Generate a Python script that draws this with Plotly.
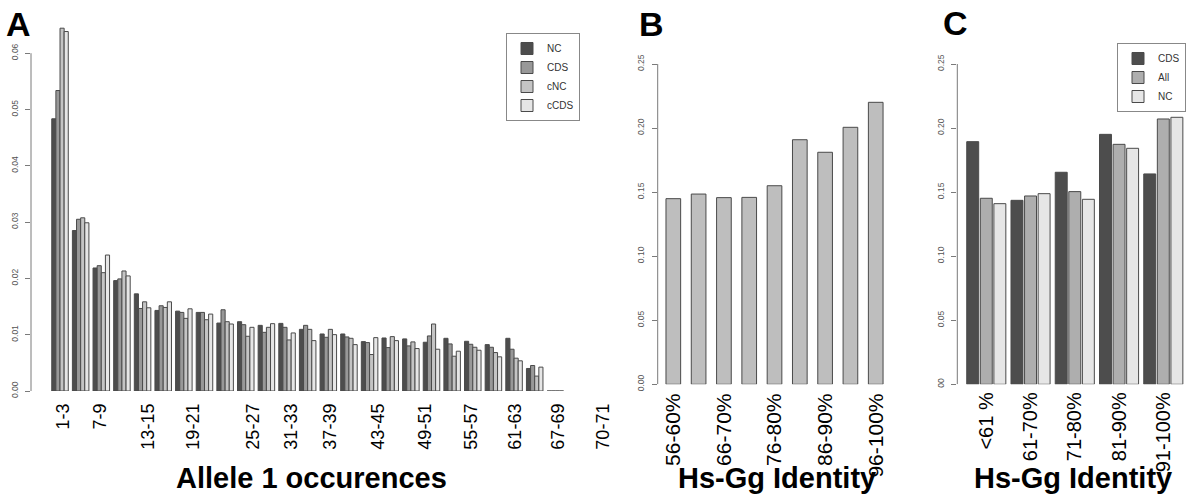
import plotly.graph_objects as go

# ---------------- data ----------------
# Panel A: allele-1 occurrence classes (25 groups), four series
series_a = ["NC", "CDS", "cNC", "cCDS"]
nc_a = [0.04835, 0.0285, 0.02185, 0.01961, 0.01726, 0.01431, 0.01419, 0.01396, 0.01207,
        0.01231, 0.01166, 0.01201, 0.01095, 0.01013, 0.01013, 0.00877, 0.00942, 0.00925,
        0.00866, 0.00936, 0.00883, 0.00824, 0.00936, 0.0040, 0.0]
cds_a = [0.05337, 0.0305, 0.02226, 0.01991, 0.01466, 0.01514, 0.01396, 0.01396, 0.01443,
         0.01178, 0.01042, 0.01131, 0.01166, 0.00954, 0.0096, 0.0086, 0.00771, 0.00801,
         0.00978, 0.00836, 0.0083, 0.00777, 0.00742, 0.00453, 0.0]
cnc_a = [0.06444, 0.03076, 0.02102, 0.02132, 0.01584, 0.01484, 0.0129, 0.01266, 0.01231,
         0.00972, 0.01131, 0.00907, 0.01095, 0.01095, 0.00936, 0.00648, 0.00966, 0.00872,
         0.0119, 0.00618, 0.00777, 0.00683, 0.00583, 0.00265, 0.0]
ccds_a = [0.06385, 0.02988, 0.02415, 0.02044, 0.01478, 0.01584, 0.0146, 0.01366, 0.0119,
          0.01131, 0.01196, 0.01031, 0.00895, 0.01001, 0.00824, 0.00948, 0.00895, 0.00754,
          0.00742, 0.00707, 0.00724, 0.00607, 0.00536, 0.00424, 0.0]
groups_a = list(range(25))
ticklabels_a = ["1-3", "7-9", "13-15", "19-21", "25-27", "31-33", "37-39", "43-45",
                "49-51", "55-57", "61-63", "67-69", "70-71"]
yticks_a = [0.0, 0.01, 0.02, 0.03, 0.04, 0.05, 0.06]

# Panel B: Hs-Gg identity classes
cats_b = ["56-60%", "61-65%", "66-70%", "71-75%", "76-80%", "81-85%", "86-90%", "91-95%", "96-100%"]
vals_b = [0.1449, 0.1485, 0.1457, 0.1459, 0.155, 0.1909, 0.1811, 0.2006, 0.2201]

# Panel C: identity classes, three series
cats_c = ["<61 %", "61-70%", "71-80%", "81-90%", "91-100%"]
series_c = ["CDS", "All", "NC"]
cds_c = [0.1894, 0.1436, 0.1655, 0.1951, 0.1642]
all_c = [0.1452, 0.147, 0.1504, 0.1873, 0.2071]
nc_c = [0.1410, 0.1488, 0.1444, 0.1842, 0.2084]
yticks_bc = [0.0, 0.05, 0.10, 0.15, 0.20, 0.25]
yticktext_b = ["0.00", "0.05", "0.10", "0.15", "0.20", "0.25"]
yticktext_c = ["00", "0.05", "0.10", "0.15", "0.20", "0.25"]

# ---------------- style / layout ----------------
W, H = 1200, 494
FONT = "Liberation Sans, Arial, Helvetica, sans-serif"
colors_a = ["#4D4D4D", "#989898", "#C4C4C4", "#E6E6E6"]
colors_c = ["#4D4D4D", "#AEAEAE", "#E6E6E6"]
color_b = "#BEBEBE"
edge = "#4a4a4a"
axis_col = "#7a7a7a"
ticktext_col = "#555555"

# tick label positions for panel A (in group units)
tickpos_a = [0.16, 1.94, 4.28, 6.46, 9.36, 11.22, 13.07, 15.42, 17.68, 19.94, 22.03, 24.13, 26.31]

def px_x(p):
    return p / W

def px_y(p):
    return (H - p) / H

fig = go.Figure()

# Panel A bars
for i, (name, vals) in enumerate(zip(series_a, [nc_a, cds_a, cnc_a, ccds_a])):
    fig.add_trace(go.Bar(
        x=groups_a, y=vals, name=name, xaxis="x", yaxis="y",
        width=0.2, offset=-0.4 + 0.2 * i,
        marker=dict(color=colors_a[i], line=dict(color=edge, width=1)),
        legend="legend", hoverinfo="x+y+name",
    ))

# Panel B bars
fig.add_trace(go.Bar(
    x=cats_b, y=vals_b, xaxis="x2", yaxis="y2", showlegend=False,
    width=0.58, offset=-0.29,
    marker=dict(color=color_b, line=dict(color=edge, width=1)),
))

# Panel C bars
for i, (name, vals) in enumerate(zip(series_c, [cds_c, all_c, nc_c])):
    fig.add_trace(go.Bar(
        x=cats_c, y=vals, name=name, xaxis="x3", yaxis="y3",
        marker=dict(color=colors_c[i], line=dict(color=edge, width=1)),
        legend="legend2",
    ))

ytick_common = dict(
    showgrid=False, zeroline=False, showline=False, automargin=False,
    ticks="outside", ticklen=5, tickcolor=axis_col, tickwidth=1,
    tickangle=-90, tickfont=dict(family=FONT, size=8.5, color=ticktext_col),
    ticklabelstandoff=4,
)
xtick_common = dict(
    showgrid=False, zeroline=False, showline=False, ticks="", automargin=False,
    tickangle=-90,
)

fig.update_layout(
    width=W, height=H,
    margin=dict(l=0, r=0, t=0, b=0, autoexpand=False),
    paper_bgcolor="white", plot_bgcolor="white",
    barmode="group", bargap=0.08, bargroupgap=0.12,
    font=dict(family=FONT),
    xaxis=dict(domain=[px_x(31), px_x(609)], range=[-1.406, 26.6], anchor="y",
               tickmode="array", tickvals=tickpos_a, ticktext=ticklabels_a,
               ticklabelstandoff=8, tickfont=dict(family=FONT, size=18, color="black"),
               **xtick_common),
    yaxis=dict(domain=[px_y(391), px_y(20)], range=[0, (391 - 20) / 5630], anchor="x",
               tickmode="array", tickvals=yticks_a,
               ticktext=[f"{v:.2f}" for v in yticks_a], **ytick_common),
    xaxis2=dict(domain=[px_x(657.7), px_x(890.9)], range=[-0.617, 8.6], anchor="y2",
                type="category", tickmode="array", tickvals=cats_b[::2],
                ticklabelstandoff=4, tickfont=dict(family=FONT, size=21, color="black"),
                **xtick_common),
    yaxis2=dict(domain=[px_y(384.3), px_y(51.2)], range=[0, 0.26], anchor="x2",
                tickmode="array", tickvals=yticks_bc, ticktext=yticktext_b, **ytick_common),
    xaxis3=dict(domain=[px_x(957.3), px_x(1188)], range=[-0.655, 4.558], anchor="y3",
                type="category", ticklabelstandoff=3,
                tickfont=dict(family=FONT, size=20, color="black"), **xtick_common),
    yaxis3=dict(domain=[px_y(384.3), px_y(51.2)], range=[0, 0.26], anchor="x3",
                tickmode="array", tickvals=yticks_bc, ticktext=yticktext_c, **ytick_common),
    legend=dict(x=px_x(580), y=px_y(33), xanchor="right", yanchor="top",
                bordercolor="#888888", borderwidth=1, bgcolor="white",
                font=dict(family=FONT, size=10, color="#333333"),
                itemwidth=30, tracegroupgap=0),
    legend2=dict(x=px_x(1186), y=px_y(43), xanchor="right", yanchor="top",
                 bordercolor="#888888", borderwidth=1, bgcolor="white",
                 font=dict(family=FONT, size=10, color="#333333"),
                 itemwidth=30, tracegroupgap=0),
)

# y-axis lines drawn from 0 to the top tick, as in the original
for xr, yr, yt in [("x", "y", yticks_a), ("x2", "y2", yticks_bc), ("x3", "y3", yticks_bc)]:
    fig.add_shape(type="line", xref=f"{xr} domain", yref=yr, x0=0, x1=0,
                  y0=min(yt), y1=max(yt), line=dict(color=axis_col, width=1))

# panel letters and axis titles
for txt, cx, cy in [("A", 18.3, 23.8), ("B", 651.3, 23.8), ("C", 955.3, 22.5)]:
    fig.add_annotation(text=f"<b>{txt}</b>", xref="paper", yref="paper",
                       x=px_x(cx), y=px_y(cy), xanchor="center", yanchor="middle",
                       showarrow=False, font=dict(family=FONT, size=34, color="black"))

for txt, cx in [("Allele 1 occurences", 311.5), ("Hs-Gg Identity", 777), ("Hs-Gg Identity", 1073)]:
    fig.add_annotation(text=f"<b>{txt}</b>", xref="paper", yref="paper",
                       x=px_x(cx), y=px_y(478), xanchor="center", yanchor="middle",
                       showarrow=False, font=dict(family=FONT, size=29, color="black"))

fig.write_html("out.html",
               config={"displayModeBar": False},
               post_script="document.body.style.margin='0px';document.body.style.overflow='hidden';")
